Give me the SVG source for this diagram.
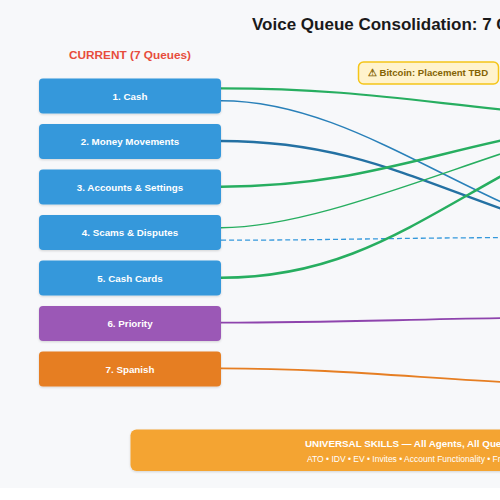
<svg xmlns="http://www.w3.org/2000/svg" width="500" height="500" viewBox="0 0 500 500">
<defs>
<filter id="sh" x="-10%" y="-20%" width="120%" height="150%">
<feDropShadow dx="0" dy="1" stdDeviation="1.2" flood-color="#000" flood-opacity="0.15"/>
</filter>
<style>
.t{font-family:"Liberation Sans",Arial,sans-serif;}
.lbl{font-family:"Liberation Sans",Arial,sans-serif;font-size:9.8px;font-weight:bold;fill:#fff;text-anchor:middle;}
.box{stroke:none;filter:url(#sh);}
.c{fill:none;}
</style>
</defs>
<rect x="0" y="0" width="500" height="488" fill="#f7f8fa"/>
<rect x="0" y="488" width="500" height="12" fill="#ffffff"/>
<text class="t" x="252" y="30" font-size="17" font-weight="bold" fill="#1a1a1a">Voice Queue Consolidation: 7 Queues → 4 Skills</text>
<text class="t" x="130" y="59" font-size="11.8" font-weight="bold" fill="#e74c3c" text-anchor="middle">CURRENT (7 Queues)</text>

<g id="connectors">
<path class="c" d="M221,88.3 C341,88.3 410,100.3 510,110.3" stroke="#27ae60" stroke-width="2.2"/>
<path class="c" d="M221,100.7 C321,100.7 410,161 510,206" stroke="#2980b9" stroke-width="1.5"/>
<path class="c" d="M221,141 C341,141 410,176.8 510,211.8" stroke="#2471a3" stroke-width="2.5"/>
<path class="c" d="M221,186.7 C341,186.7 410,160 510,138.6" stroke="#27ae60" stroke-width="2.5"/>
<path class="c" d="M221,227.7 C301,227.7 410,183.8 510,150.8" stroke="#27ae60" stroke-width="1.5"/>
<path class="c" d="M221,240.2 C330,240.2 400,237.8 510,237.6" stroke="#3498db" stroke-width="1.3" stroke-dasharray="5,3"/>
<path class="c" d="M221,277.7 C341,277.7 410,226.2 510,171.2" stroke="#27ae60" stroke-width="2.5"/>
<path class="c" d="M221,322.7 C330,322.7 400,319.5 510,318" stroke="#8e44ad" stroke-width="1.8"/>
<path class="c" d="M221,368.3 C330,368.3 420,378 510,382.3" stroke="#e67e22" stroke-width="1.8"/>
</g>

<g id="q1"><rect class="box" x="39" y="78.5" width="182" height="35" rx="4" fill="#3498db"/><text class="lbl" x="130" y="99.5">1. Cash</text></g>
<g id="q2"><rect class="box" x="39" y="124" width="182" height="35" rx="4" fill="#3498db"/><text class="lbl" x="130" y="145">2. Money Movements</text></g>
<g id="q3"><rect class="box" x="39" y="169.5" width="182" height="35" rx="4" fill="#3498db"/><text class="lbl" x="130" y="190.5">3. Accounts &amp; Settings</text></g>
<g id="q4"><rect class="box" x="39" y="215" width="182" height="35" rx="4" fill="#3498db"/><text class="lbl" x="130" y="236">4. Scams &amp; Disputes</text></g>
<g id="q5"><rect class="box" x="39" y="260.5" width="182" height="35" rx="4" fill="#3498db"/><text class="lbl" x="130" y="281.5">5. Cash Cards</text></g>
<g id="q6"><rect class="box" x="39" y="306" width="182" height="35" rx="4" fill="#9b59b6"/><text class="lbl" x="130" y="327">6. Priority</text></g>
<g id="q7"><rect class="box" x="39" y="351.5" width="182" height="35" rx="4" fill="#e67e22"/><text class="lbl" x="130" y="372.5">7. Spanish</text></g>

<g id="bitcoin"><rect x="358.5" y="62" width="140" height="22" rx="5" fill="#fff3cd" stroke="#f5c518" stroke-width="1.5"/><text class="t" x="428" y="76.3" font-size="9.6" font-weight="bold" fill="#856404" text-anchor="middle">⚠ Bitcoin: Placement TBD</text></g>

<g id="universal"><rect class="box" x="130.5" y="429.5" width="740" height="41.5" rx="6" fill="#f4a430"/>
<text class="t" x="305" y="446.5" font-size="9.8" font-weight="bold" fill="#fff">UNIVERSAL SKILLS — All Agents, All Queues</text>
<text class="t" x="307" y="461.5" font-size="8.5" fill="#fff">ATO • IDV • EV • Invites • Account Functionality • Fraud</text></g>
</svg>
